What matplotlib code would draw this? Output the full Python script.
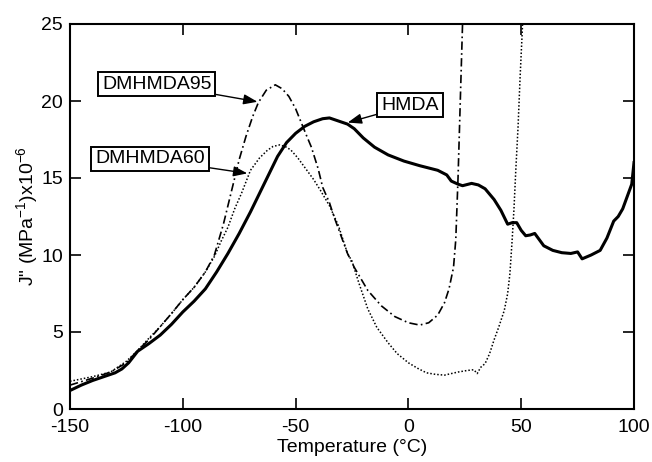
import matplotlib
matplotlib.use("Agg")
import matplotlib.pyplot as plt

plt.rcParams['font.family'] = ['Liberation Sans', 'DejaVu Sans']
plt.rcParams['mathtext.fontset'] = 'custom'
plt.rcParams['mathtext.rm'] = 'Liberation Sans'
plt.rcParams['mathtext.it'] = 'Liberation Sans:italic'
plt.rcParams['mathtext.bf'] = 'Liberation Sans:bold'

# Loss compliance J'' vs temperature
hmda_t = [-150, -145, -140, -135, -130, -127, -124, -120, -115, -110, -105, -100,
          -95, -90, -85, -80, -75, -70, -65, -62, -58, -54, -50, -46, -42, -38,
          -35, -31, -27, -24, -20, -15, -9, -2, 5, 13, 17, 19, 22, 24, 28, 31,
          34, 38, 41, 44, 46, 48, 50, 52, 54, 56, 58, 60, 64, 68, 72, 75, 77,
          81, 85, 88, 91, 93, 95, 97, 99, 100]
hmda_j = [1.2, 1.55, 1.85, 2.1, 2.35, 2.6, 3.0, 3.75, 4.25, 4.8, 5.5, 6.3,
          7.0, 7.8, 8.9, 10.1, 11.4, 12.8, 14.3, 15.2, 16.4, 17.3, 17.9, 18.35, 18.65, 18.85,
          18.9, 18.7, 18.5, 18.2, 17.6, 17.0, 16.5, 16.1, 15.8, 15.5, 15.2, 14.8, 14.6, 14.5, 14.65, 14.55,
          14.3, 13.6, 12.9, 12.0, 12.1, 12.1, 11.6, 11.25, 11.3, 11.4, 11.0, 10.6, 10.3, 10.15, 10.1, 10.2, 9.75,
          10.0, 10.3, 11.1, 12.2, 12.5, 13.0, 13.8, 14.6, 16.0]

dm95_t = [-150, -140, -132, -125, -120, -115, -110, -105, -100, -95, -90, -86,
          -82, -78, -75, -72, -69, -66.5, -63, -59, -56, -53, -50, -47.5, -45,
          -43, -40, -38, -35, -33, -30, -27, -24, -18, -12, -6, 0, 5, 9, 13,
          16, 18, 20, 21, 21.5, 22, 22.6, 23.2, 23.8, 24.0]
dm95_j = [1.55, 2.0, 2.4, 3.0, 3.8, 4.5, 5.35, 6.2, 7.1, 7.9, 8.9, 10.0,
          12.0, 14.4, 16.2, 17.7, 19.0, 19.9, 20.7, 21.05, 20.8, 20.3, 19.5, 18.6, 17.7,
          17.0, 15.6, 14.4, 13.4, 12.5, 11.3, 10.1, 9.2, 7.7, 6.7, 6.0, 5.6, 5.45, 5.6, 6.1,
          6.9, 7.8, 9.2, 11.0, 13.0, 15.0, 18.0, 21.0, 24.0, 25.0]

dm60_t = [-150, -140, -132, -125, -120, -115, -110, -105, -100, -95, -90, -86,
          -83, -80, -77, -74, -70, -66, -62.5, -60, -57, -54, -52, -49, -46,
          -42, -39, -35, -31, -27, -25, -22, -18, -14, -9, -5, 0, 4, 8, 12,
          16, 19, 22, 26, 29, 30.5, 32, 34, 36, 38, 40, 42.5, 44, 45, 46,
          46.8, 47.6, 48.6, 49.5, 50.3, 50.6]
dm60_j = [1.8, 2.1, 2.4, 3.1, 3.8, 4.6, 5.35, 6.2, 7.1, 7.9, 8.9, 9.9,
          10.9, 11.8, 13.0, 14.0, 15.5, 16.3, 16.8, 17.05, 17.15, 17.0, 16.8, 16.3, 15.7,
          14.9, 14.2, 13.2, 11.9, 10.1, 9.6, 8.2, 6.5, 5.3, 4.3, 3.6, 3.0, 2.65, 2.35, 2.25,
          2.2, 2.3, 2.4, 2.5, 2.55, 2.3, 2.7, 2.95, 3.6, 4.5, 5.3, 6.4, 7.5, 8.8, 11.0,
          13.0, 15.5, 18.3, 21.5, 24.0, 25.0]

x_ticks = [-150, -100, -50, 0, 50, 100]
y_ticks = [0, 5, 10, 15, 20, 25]

fig = plt.figure(figsize=(6.52, 4.62), dpi=100)
ax = fig.add_axes([70 / 652, 53 / 462, 564 / 652, 385 / 462])

ax.plot(hmda_t, hmda_j, color='black', lw=2.2, solid_joinstyle='round')
ax.plot(dm95_t, dm95_j, color='black', lw=1.2, linestyle=(0, (5, 2, 1, 2)))
ax.plot(dm60_t, dm60_j, color='black', lw=1.1, linestyle=(0, (1, 1.3)))

ax.set_xlim(-150, 100)
ax.set_ylim(0, 25)
ax.set_xticks(x_ticks)
ax.set_yticks(y_ticks)
ax.set_xticklabels([str(v) for v in x_ticks])
ax.set_yticklabels([str(v) for v in y_ticks])
ax.tick_params(direction='in', length=8, width=1.2, labelsize=14,
               top=True, right=True)
ax.tick_params(axis='x', pad=7)
ax.tick_params(axis='y', pad=5)
for s in ax.spines.values():
    s.set_linewidth(1.5)

ax.set_xlabel('Temperature (°C)', fontsize=14, labelpad=2)
ax.set_ylabel('J" (MPa$^{-1}$)x10$^{-6}$', fontsize=14)
ax.yaxis.set_label_coords(-0.053, 0.5)

box = dict(boxstyle='square,pad=0.2', fc='white', ec='black', lw=1.4)
arrow = dict(arrowstyle='-|>,head_length=0.6,head_width=0.22', color='black',
             lw=1.0, shrinkA=0, shrinkB=0)
labels = [('DMHMDA95', (-111.5, 21.1), (-66.9, 19.95)),
          ('DMHMDA60', (-114.6, 16.24), (-71.4, 15.3)),
          ('HMDA', (0.7, 19.74), (-26.9, 18.6))]
for name, txt, head in labels:
    ax.annotate(name, xy=head, xytext=txt, ha='center', va='center',
                fontsize=14, bbox=box, arrowprops=arrow)

fig.savefig('out.png', dpi=100)
